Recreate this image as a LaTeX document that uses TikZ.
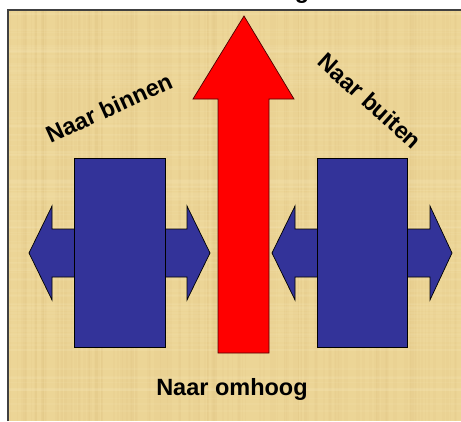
\documentclass[tikz,border=0pt]{standalone}
\usepackage{fontspec}
\setmainfont{Liberation Sans}
\definecolor{parch}{RGB}{236,213,150}
\definecolor{parchdark}{RGB}{214,186,118}
\definecolor{parchlight}{RGB}{247,232,186}
\definecolor{arrowblue}{RGB}{51,51,153}
\definecolor{arrowred}{RGB}{255,0,0}
\tikzset{
  bluebox/.style={fill=arrowblue, draw=black, line width=0.7pt, line join=miter},
  redbox/.style={fill=arrowred, draw=black!70!red, line width=0.7pt, line join=miter},
  lbl/.style={font=\bfseries\fontsize{23.5}{26}\selectfont, text=black, inner sep=0pt}
}
\begin{document}
\begin{tikzpicture}[x=1pt,y=-1pt]
\useasboundingbox (0,0) rectangle (461,421);
\fill[white] (0,0) rectangle (461,421);
% cut-off title glyph
\begin{scope}
\clip (250,0) rectangle (330,9);
\node[lbl, anchor=base] (ttl) at (302,-2) {g};
\end{scope}
% parchment panel
\fill[parch] (8,10) rectangle (461,421);
\begin{scope}
\clip (8,10) rectangle (461,421);
\pgfmathsetseed{7}
\foreach \i in {1,...,160}{
  \pgfmathsetmacro\xx{8+rnd*453}
  \pgfmathsetmacro\ww{0.8+rnd*2.5}
  \fill[parchdark, opacity=0.09] (\xx,10) rectangle ++(\ww,411);
}
\foreach \i in {1,...,120}{
  \pgfmathsetmacro\yy{10+rnd*411}
  \pgfmathsetmacro\hh{0.8+rnd*2.5}
  \fill[parchlight, opacity=0.12] (8,\yy) rectangle ++(453,\hh);
}
\end{scope}
\draw[black!75, line width=1.2pt] (8,421) -- (8,10) -- (461,10);
% red upward arrow
\draw[redbox] (244,16) -- (294,99) -- (269,99) -- (269,353) -- (218,353) -- (218,99) -- (193,99) -- cycle;
% left double arrow and block
\draw[bluebox] (29,253) -- (52,206) -- (52,229) -- (187,229) -- (187,206) -- (210,253)
  -- (187,300) -- (187,277) -- (52,277) -- (52,300) -- cycle;
\draw[bluebox] (74,158) rectangle (165,347);
% right double arrow and block
\draw[bluebox] (272,253) -- (295,206) -- (295,229) -- (430,229) -- (430,206) -- (452,253)
  -- (430,300) -- (430,277) -- (295,277) -- (295,300) -- cycle;
\draw[bluebox] (317,158) rectangle (407,347);
% labels
\node[lbl, rotate=24.5] (binnen) at (109,108) {Naar binnen};
\node[lbl, rotate=-42] (buiten) at (370,101) {Naar buiten};
\node[lbl] (omhoog) at (232,389) {Naar omhoog};
\end{tikzpicture}
\end{document}
